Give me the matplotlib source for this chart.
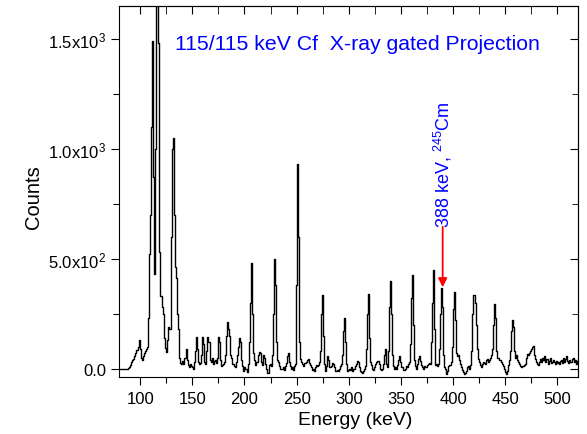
import numpy as np
import matplotlib
matplotlib.use('Agg')
import matplotlib.pyplot as plt
from matplotlib.ticker import MultipleLocator, FixedLocator

plt.rcParams['font.family'] = ['Liberation Sans', 'DejaVu Sans']
plt.rcParams['mathtext.fontset'] = 'custom'
plt.rcParams['mathtext.rm'] = 'Liberation Sans'
plt.rcParams['mathtext.default'] = 'regular'

# spectrum: one channel per keV, first channel at 80 keV
channel_start = 80
counts = [
    0, 0, 0, 0, 0, 0, 0, 0, 0, 2,                                  # 80
    5, 15, 30, 40, 45, 55, 70, 85, 100, 128,                       # 90
    90, 50, 38, 55, 70, 80, 90, 100, 230, 520,                     # 100
    700, 1100, 1490, 870, 430, 1000, 1800, 1800, 1480, 530,        # 110
    330, 280, 250, 140, 95, 75, 130, 190, 180, 180,                # 120
    600, 1000, 1050, 700, 460, 410, 250, 180, 50, 25,              # 130
    20, 35, 20, 50, 90, 40, 15, 5, 20, 10,                         # 140
    5, 0, 30, 80, 145, 90, 30, 20, 25, 60,                         # 150
    145, 110, 30, 20, 80, 145, 120, 40, 30, 50,                    # 160
    20, 35, 40, 25, 50, 145, 120, 40, 10, 15,                      # 170
    20, 30, 60, 150, 210, 180, 150, 60, 50, 20,                    # 180
    10, 5, 30, 60, 100, 140, 120, 40, 10, -10,                     # 190
    5, 0, 0, -15, 20, 120, 300, 480, 250, 70,                      # 200
    40, 15, 30, 60, 75, 70, 30, 15, 60, 50,                        # 210
    20, 0, -20, -20, 15, 20, 10, 60, 250, 500,                     # 220
    380, 120, 40, 30, 10, 0, 0, 5, -5, 10,                         # 230
    25, 55, 70, 30, 10, 0, 5, -5, 10, 20,                          # 240
    380, 930, 600, 120, 45, 30, 20, 10, 25, 30,                    # 250
    40, 45, 25, 15, 5, -5, 0, -10, 5, 15,                          # 260
    10, 15, 30, 80, 250, 335, 150, 20, -10, 10,                    # 270
    55, 40, 5, 10, 25, 20, 5, -10, -10, -5,                        # 280
    -10, 0, 10, 20, 60, 170, 230, 120, 20, -10,                    # 290
    -5, 0, -5, 5, -10, 0, 10, 20, 35, 30,                          # 300
    5, -10, -15, -20, -10, 0, 10, 90, 250, 340,                    # 310
    140, 30, 15, 0, -5, 5, 20, 30, 35, 20,                         # 320
    0, -5, 0, 20, 60, 90, 20, 5, 80, 280,                          # 330
    400, 250, 60, 10, 0, 5, 0, 15, 40, 55,                         # 340
    30, 5, -5, -5, 0, 10, 5, 20, 30, 110,                          # 350
    320, 425, 200, 40, 10, 0, 20, 45, 55, 35,                      # 360
    15, 5, 0, 10, 5, 15, 20, 25, 20, 120,                          # 370
    300, 450, 180, 15, 20, 10, 20, 90, 250, 367,                   # 380
    280, 60, 5, 0, -25, -10, 10, 15, 30, 100,                      # 390
    270, 348, 220, 70, 55, 60, 40, 20, 5, -5,                      # 400
    -15, -25, -20, -10, 5, 10, 0, 15, 80, 250,                     # 410
    336, 300, 200, 90, 45, 30, 15, 5, 20, 30,                      # 420
    25, 20, 40, 45, 30, 40, 50, 60, 90, 200,                       # 430
    295, 230, 80, 50, 40, 38, 30, 20, 10, 0,                       # 440
    -15, -25, -10, 15, 40, 80, 170, 220, 190, 80,                  # 450
    50, 60, 40, 30, 20, 10, 8, 10, 15, 20,                         # 460
    50, 68, 60, 70, 80, 90, 100, 103, 60, 45,                      # 470
    30, 20, 15, 30, 45, 30, 50, 40, 55, 30,                        # 480
    45, 20, 35, 50, 25, 30, 40, 30, 20, 35,                        # 490
    25, 30, 20, 35, 40, 25, 50, 30, 45, 55,                        # 500
    35, 25, 40, 30, 45, 50, 30, 40, 20, 35,                        # 510
]
energy = channel_start + np.arange(len(counts))

title_text = '115/115 keV Cf  X-ray gated Projection'
peak_label = '388 keV, $^{245}$Cm'
peak_energy = 390
peak_counts = 370

fig = plt.figure(figsize=(5.87, 4.35), dpi=100)
ax = fig.add_axes([0.2032, 0.1303, 0.782, 0.8536])

ax.step(energy, counts, where='mid', color='black', lw=1.0)

ax.set_xlim(80, 520)
ax.set_ylim(-40, 1650)

ax.xaxis.set_major_locator(MultipleLocator(50))
ax.xaxis.set_minor_locator(MultipleLocator(25))
ax.yaxis.set_major_locator(FixedLocator([0, 500, 1000, 1500]))
ax.yaxis.set_minor_locator(MultipleLocator(250))
ax.set_yticklabels(['0.0', '5.0x10$^2$', '1.0x10$^3$', '1.5x10$^3$'])

ax.tick_params(which='major', direction='out', length=6, width=0.8, labelsize=12)
ax.tick_params(which='minor', direction='out', length=4, width=0.8)

# mirrored ticks pointing inward on top and right
top = ax.secondary_xaxis('top')
top.xaxis.set_major_locator(MultipleLocator(50))
top.xaxis.set_minor_locator(MultipleLocator(25))
top.tick_params(which='both', direction='in', length=6, labeltop=False)
right = ax.secondary_yaxis('right')
right.yaxis.set_major_locator(FixedLocator([0, 500, 1000, 1500]))
right.yaxis.set_minor_locator(MultipleLocator(250))
right.tick_params(which='major', direction='in', length=6, labelright=False)
right.tick_params(which='minor', direction='in', length=4, labelright=False)

ax.set_xlabel('Energy (keV)', fontsize=14, x=0.513)
ax.set_ylabel('Counts', fontsize=14.5, y=0.487)

ax.text(133, 1455, title_text, color='blue', fontsize=15.3, va='baseline')
ax.text(peak_energy, 645, peak_label, color='blue', fontsize=13,
        rotation=90, ha='center', va='bottom')
ax.annotate('', xy=(peak_energy, peak_counts), xytext=(peak_energy, 645),
            arrowprops=dict(arrowstyle='-|>', color='red', lw=1.3,
                            mutation_scale=13, shrinkA=0, shrinkB=0))

fig.savefig('out.png', dpi=100)
